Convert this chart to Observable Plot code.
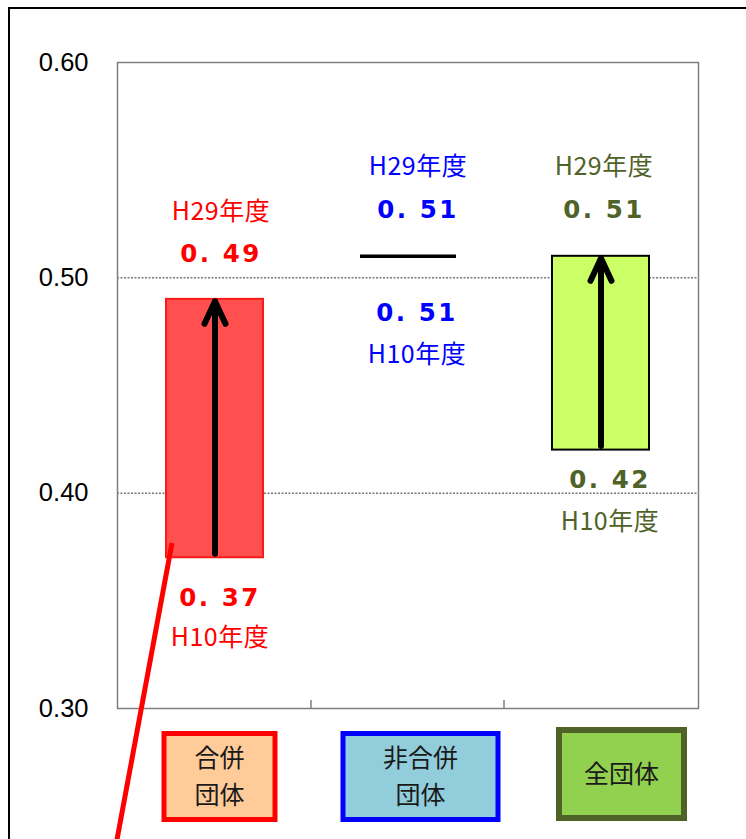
<!DOCTYPE html>
<html>
<head>
<meta charset="utf-8">
<script src="https://cdn.jsdelivr.net/npm/d3@7"></script>
<script src="https://cdn.jsdelivr.net/npm/@observablehq/plot@0.6"></script>
<style>
  html, body { margin: 0; padding: 0; background: #fff; }
  #chart { width: 746px; height: 839px; }
  .val-label text { letter-spacing: 2.5px; }
  .year-label text { letter-spacing: 0.5px; }
</style>
</head>
<body>
<div id="chart"></div>
<script>
// ---- data ----
const categories = ["合併団体", "非合併団体", "全団体"];
const categoryLines = [["合併", "団体"], ["非合併", "団体"], ["全団体"]];
const valuesH10 = [0.37, 0.51, 0.42];
const valuesH29 = [0.49, 0.51, 0.51];
const labelH10 = "H10年度";
const labelH29 = "H29年度";
const yTicks = [0.30, 0.40, 0.50, 0.60];
const gridValues = [0.40, 0.50];

// ---- helpers ----
const fmtValue = (v) => v.toFixed(2).replace(".", ". ");
const rows = categories.map((c, i) => ({cat: c, h10: valuesH10[i], h29: valuesH29[i]}));

const colors = {
  "合併団体": {text: "#FF0000", fill: "#FF4F4F", stroke: "#FF1A1A", boxFill: "#FFCC99", boxStroke: "#FF0000"},
  "非合併団体": {text: "#0000FF", fill: "none", stroke: "#000", boxFill: "#92CDDC", boxStroke: "#0000FF"},
  "全団体": {text: "#4F6228", fill: "#CCFF66", stroke: "#000", boxFill: "#92D050", boxStroke: "#4F6228"}
};
// label placement (pixel offsets from each value's position)
const placement = {
  "合併団体": {dxTop: 6, dxBot: 5, top: [-87, -45], bot: [40, 80]},
  "非合併団体": {dxTop: 10, dxBot: 9, top: [-89, -46], bot: [57, 99]},
  "全団体": {dxTop: 3, dxBot: 9, top: [-89, -46], bot: [30, 72]}
};

const jp = "'Noto Sans CJK JP', 'Noto Sans', sans-serif";
const marks = [];

marks.push(Plot.ruleY(gridValues, {stroke: "#333", strokeWidth: 1, strokeDasharray: "2,1.5"}));

// bars (changed values)
for (const r of rows) {
  const c = colors[r.cat];
  if (r.h10 !== r.h29) {
    marks.push(Plot.barY([r], {x: "cat", y1: "h10", y2: "h29", fill: c.fill, stroke: c.stroke, strokeWidth: 2, insetLeft: 48, insetRight: 48}));
  } else {
    marks.push(Plot.tickY([r], {x: "cat", y: "h29", stroke: "#000", strokeWidth: 3.5, insetLeft: 49, insetRight: 48}));
  }
}

// arrows
marks.push(Plot.arrow(rows.filter(r => r.h10 !== r.h29), {
  x: "cat", y1: "h10", y2: "h29", stroke: "#000", strokeWidth: 6,
  headAngle: 50, headLength: 6.2, insetStart: 4, insetEnd: 2, strokeLinejoin: "miter"
}));

// labels
for (const r of rows) {
  const c = colors[r.cat], p = placement[r.cat];
  const yearStyle = {fill: c.text, fontSize: 25, fontFamily: jp, className: "year-label"};
  const valStyle = {fill: c.text, fontSize: 24.5, fontWeight: "bold", fontFamily: "'DejaVu Sans', sans-serif", className: "val-label"};
  marks.push(Plot.text([r], {x: "cat", y: "h29", text: () => labelH29, dy: p.top[0], dx: p.dxTop, ...yearStyle}));
  marks.push(Plot.text([r], {x: "cat", y: "h29", text: d => fmtValue(d.h29), dy: p.top[1], dx: p.dxTop, ...valStyle}));
  marks.push(Plot.text([r], {x: "cat", y: "h10", text: d => fmtValue(d.h10), dy: p.bot[0], dx: p.dxBot, ...valStyle}));
  marks.push(Plot.text([r], {x: "cat", y: "h10", text: () => labelH10, dy: p.bot[1], dx: p.dxBot, ...yearStyle}));
}

marks.push(Plot.axisY({ticks: yTicks, tickFormat: d3.format(".2f"), tickSize: 0, tickPadding: 29, label: null, fontSize: 25.5, fontFamily: "'Liberation Sans', Arial, sans-serif", fill: "#000"}));
marks.push(Plot.frame({stroke: "#7F7F7F", strokeWidth: 1.5}));

const plot = Plot.plot({
  width: 746, height: 839,
  marginLeft: 117, marginRight: 48, marginTop: 62, marginBottom: 131,
  x: {domain: categories, padding: 0, axis: null},
  y: {domain: [0.30, 0.60], axis: null},
  style: {background: "#fff", overflow: "visible"},
  marks
});

// ---- decorations: category boxes, bottom ticks, callout line, outer border ----
const svg = d3.select(plot);
const xs = plot.scale("x");
const bw = xs.bandwidth;
const bottom = 708;

// separator ticks at band boundaries
categories.slice(1).forEach(cat => {
  const bx = xs.apply(cat);
  svg.append("line").attr("x1", bx).attr("x2", bx).attr("y1", bottom - 8).attr("y2", bottom)
    .attr("stroke", "#7F7F7F").attr("stroke-width", 1.5);
});

const boxGeom = [
  {dx: 5, w: 116, y: 731, h: 91, sw: 5},
  {dx: 13, w: 160, y: 731, h: 91, sw: 5},
  {dx: 21, w: 131, y: 727, h: 94, sw: 6}
];
categories.forEach((cat, i) => {
  const c = colors[cat], g = boxGeom[i];
  const cx = xs.apply(cat) + bw / 2 + g.dx;
  svg.append("rect")
    .attr("x", cx - g.w / 2 + g.sw / 2).attr("y", g.y + g.sw / 2)
    .attr("width", g.w - g.sw).attr("height", g.h - g.sw)
    .attr("fill", c.boxFill).attr("stroke", c.boxStroke).attr("stroke-width", g.sw);
  const lines = categoryLines[i];
  const cy = g.y + g.h / 2;
  const lh = 37;
  lines.forEach((t, k) => {
    svg.append("text")
      .attr("x", cx).attr("y", cy + (k - (lines.length - 1) / 2) * lh)
      .attr("dy", "0.35em").attr("text-anchor", "middle")
      .attr("font-family", jp).attr("font-size", 25).attr("fill", "#1a1a1a")
      .text(t);
  });
});

// callout line from the red bar
svg.append("line").attr("x1", 172).attr("y1", 543).attr("x2", 116).attr("y2", 845)
  .attr("stroke", "#FF0000").attr("stroke-width", 5);

// outer border
svg.append("path").attr("d", "M9,845V8H750").attr("fill", "none").attr("stroke", "#000").attr("stroke-width", 2);

document.getElementById("chart").appendChild(plot);
</script>
</body>
</html>
